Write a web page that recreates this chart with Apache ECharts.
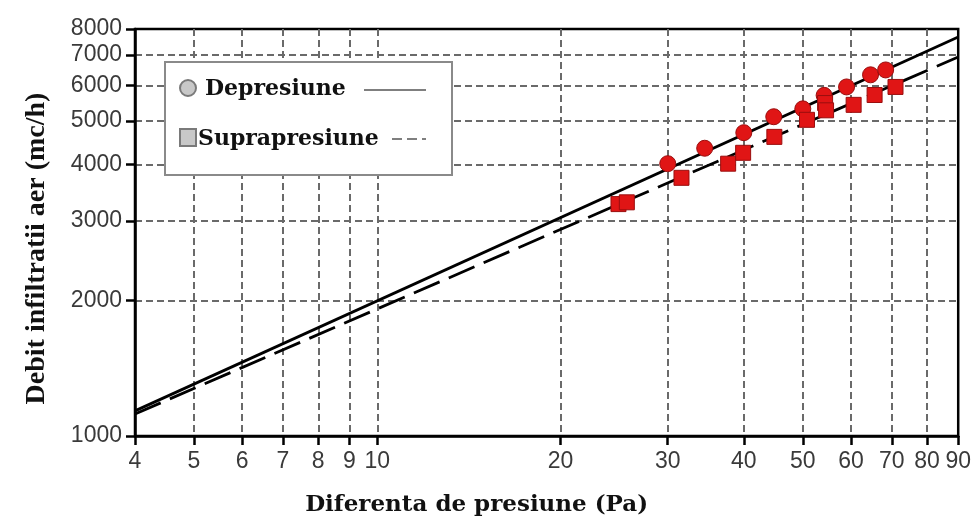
<!DOCTYPE html>
<html>
<head>
<meta charset="utf-8">
<script src="https://cdn.jsdelivr.net/npm/echarts@6/dist/echarts.min.js"></script>
<style>
html,body{margin:0;padding:0;background:#fff;}
#chart{width:974px;height:522px;}
</style>
</head>
<body>
<div id="chart"></div>
<script>
// Tick values
const xTicks = [4, 5, 6, 7, 8, 9, 10, 20, 30, 40, 50, 60, 70, 80, 90];
const yTicks = [1000, 2000, 3000, 4000, 5000, 6000, 7000, 8000];

// Measured points: Depresiune (circles)
const depX = [30, 34.5, 40, 44.8, 50, 54.2, 59, 64.6, 68.4];
const depY = [4020, 4350, 4710, 5110, 5320, 5700, 5950, 6330, 6490];

// Measured points: Suprapresiune (squares)
const supX = [24.9, 25.7, 31.6, 37.7, 39.9, 44.9, 50.8, 54.4, 54.6, 60.6, 65.6, 71];
const supY = [3270, 3300, 3740, 4020, 4250, 4610, 5030, 5480, 5280, 5430, 5710, 5950];

// Fitted lines (end points)
const fitX = [4, 90];
const depFitY = [1137, 7680];
const supFitY = [1119, 6935];

const chart = echarts.init(document.getElementById('chart'), null, {renderer: 'canvas'});

const pairs = (xs, ys) => xs.map((x, i) => [x, ys[i]]);

const labelFont = {fontFamily: 'Liberation Sans, Arial, sans-serif', fontSize: 23, color: '#3a3a3a'};
const gridLine = {show: true, showMinLine: false, showMaxLine: false, lineStyle: {color: '#6a6a6a', width: 2, type: [7, 4]}};

const option = {
  backgroundColor: '#ffffff',
  animation: false,
  grid: {left: 135, right: 14, top: 29, bottom: 86, show: true, borderColor: '#000', borderWidth: 2.5, backgroundColor: 'transparent'},
  xAxis: {
    type: 'log', logBase: 10, min: 4, max: 90,
    name: 'Diferenta de presiune (Pa)', nameLocation: 'middle', nameGap: 58,
    nameTextStyle: {fontFamily: 'DejaVu Serif', fontWeight: 'bold', fontSize: 23, color: '#111', padding: [0, 140, 0, 0]},
    axisLine: {show: true, lineStyle: {color: '#000', width: 2.5}},
    axisTick: {show: true, length: 9, lineStyle: {color: '#000', width: 2.5}, customValues: xTicks},
    axisLabel: Object.assign({margin: 14, customValues: xTicks, formatter: v => String(Math.round(v))}, labelFont),
    splitLine: gridLine,
    minorTick: {show: false}, minorSplitLine: {show: false}
  },
  yAxis: {
    type: 'log', logBase: 10, min: 1000, max: 8000,
    name: 'Debit infiltratii aer (mc/h)', nameLocation: 'middle', nameGap: 84, nameRotate: 90,
    nameTextStyle: {fontFamily: 'Liberation Serif', fontWeight: 'bold', fontSize: 28, color: '#111', padding: [0, 32, 0, 0]},
    axisLine: {show: true, lineStyle: {color: '#000', width: 2.5}},
    axisTick: {show: true, length: 9, lineStyle: {color: '#000', width: 2.5}, customValues: yTicks},
    axisLabel: Object.assign({margin: 13, customValues: yTicks, formatter: v => String(Math.round(v))}, labelFont),
    splitLine: gridLine,
    minorTick: {show: false}, minorSplitLine: {show: false}
  },
  series: [
    {
      name: 'Depresiune fit', type: 'line', data: pairs(fitX, depFitY), showSymbol: false, symbol: 'none',
      lineStyle: {color: '#000', width: 2.8}, z: 3, silent: true
    },
    {
      name: 'Suprapresiune fit', type: 'line', data: pairs(fitX, supFitY), showSymbol: false, symbol: 'none',
      lineStyle: {color: '#000', width: 2.8, type: [28, 10]}, z: 3, silent: true
    },
    {
      name: 'Depresiune', type: 'scatter', data: pairs(depX, depY), symbol: 'circle', symbolSize: 16,
      itemStyle: {color: '#e01515', borderColor: '#9a0e0e', borderWidth: 1, opacity: 1}, z: 4
    },
    {
      name: 'Suprapresiune', type: 'scatter', data: pairs(supX, supY), symbol: 'rect', symbolSize: 15,
      itemStyle: {color: '#e01515', borderColor: '#9a0e0e', borderWidth: 1, opacity: 1}, z: 4
    }
  ],
  graphic: [
    {type: 'rect', shape: {x: 165, y: 62, width: 287, height: 113}, style: {fill: '#fff', stroke: '#8a8a8a', lineWidth: 2}, z: 100},
    {type: 'circle', shape: {cx: 188, cy: 88, r: 8}, style: {fill: '#c8c8c8', stroke: '#7a7a7a', lineWidth: 2}, z: 101},
    {type: 'text', x: 205, y: 89, style: {text: 'Depresiune', fontFamily: 'DejaVu Serif', fontWeight: 'bold', fontSize: 22, fill: '#111', verticalAlign: 'middle'}, z: 101},
    {type: 'line', shape: {x1: 364, y1: 90, x2: 426, y2: 90}, style: {stroke: '#555', lineWidth: 1.5}, z: 101},
    {type: 'rect', shape: {x: 180, y: 129, width: 16, height: 17}, style: {fill: '#c8c8c8', stroke: '#7a7a7a', lineWidth: 2}, z: 101},
    {type: 'text', x: 198, y: 139, style: {text: 'Suprapresiune', fontFamily: 'DejaVu Serif', fontWeight: 'bold', fontSize: 22, fill: '#111', verticalAlign: 'middle'}, z: 101},
    {type: 'line', shape: {x1: 392, y1: 139, x2: 426, y2: 139}, style: {stroke: '#555', lineWidth: 1.5, lineDash: [10, 5]}, z: 101}
  ]
};
chart.setOption(option);
</script>
</body>
</html>
